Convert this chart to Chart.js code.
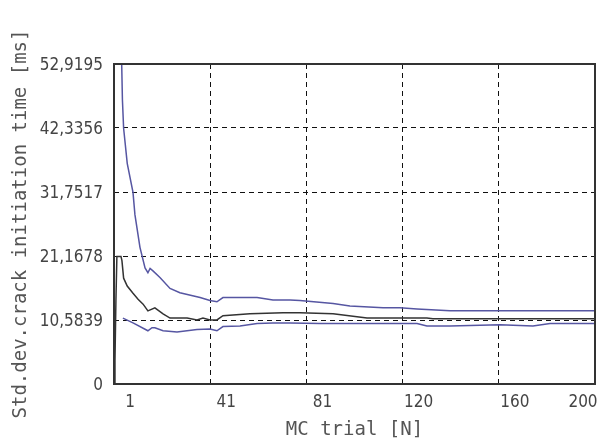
<!DOCTYPE html>
<html>
<head>
<meta charset="utf-8">
<script src="https://cdn.jsdelivr.net/npm/chart.js@4/dist/chart.umd.min.js"></script>
<style>
  html, body { margin: 0; padding: 0; background: #fff; }
  #wrap { width: 598px; height: 446px; }
</style>
</head>
<body>
<div id="wrap"><canvas id="charts"></canvas></div>
<script>
// x ticks (gridlines) and the labels printed under them
var xTicks = [0, 40, 80, 120, 160, 200];
var xTickLabels = ['1', '41', '81', '120', '160', '200'];
var yTicks = [0, 10.5839, 21.1678, 31.7517, 42.3356, 52.9195];
var yTickLabels = ['0', '10,5839', '21,1678', '31,7517', '42,3356', '52,9195'];

// upper bound
var upperX = [3.2, 3.5, 4.0, 5.5, 7.9, 8.7, 10.8, 12.9, 14.1, 15.0, 16.2, 19.1, 23.3, 27.4, 35.8, 39.9, 42.8, 45.3, 52.4, 59.5, 66.1, 73.2, 77.3, 91.1, 98.1, 111.9, 118.9, 126, 139.7, 200];
var upperY = [52.9, 47.0, 42.3, 36.5, 31.7, 28.0, 22.6, 19.2, 18.4, 19.1, 18.7, 17.6, 15.8, 15.1, 14.3, 13.8, 13.6, 14.3, 14.3, 14.3, 13.9, 13.9, 13.8, 13.3, 12.9, 12.6, 12.6, 12.4, 12.1, 12.1];
// mean
var meanX = [0.2, 0.4, 0.8, 1.2, 2.9, 3.3, 4.0, 5.5, 7.9, 10.0, 12.1, 14.1, 17.0, 20.4, 23.3, 30.4, 34.5, 37, 39.9, 42.8, 45.3, 56.5, 70.3, 77.3, 91.1, 105.2, 118.9, 130.1, 132.6, 200];
var meanY = [0, 3.8, 13.8, 21.1, 21.1, 20.4, 17.5, 16.2, 15.0, 14.0, 13.2, 12.1, 12.6, 11.6, 10.9, 10.9, 10.6, 10.9, 10.6, 10.6, 11.3, 11.6, 11.8, 11.8, 11.6, 10.9, 10.9, 10.9, 10.8, 10.8];
// lower bound
var lowerX = [3.7, 7.9, 14.1, 15.8, 17.0, 20.4, 26.2, 34.5, 39.9, 42.8, 45.3, 52.4, 59.5, 66.1, 73.2, 85.7, 118.9, 126, 130.1, 139.7, 160.5, 174.2, 181.3, 200];
var lowerY = [10.9, 10.1, 8.8, 9.3, 9.3, 8.8, 8.6, 9.0, 9.1, 8.8, 9.5, 9.6, 10.0, 10.1, 10.1, 10.0, 10.0, 10.0, 9.6, 9.6, 9.8, 9.6, 10.0, 10.0];

function pts(xs, ys) {
    return xs.map(function (x, i) { return {x: x, y: ys[i]}; });
}

var tickFont = {family: "'Liberation Sans Narrow', 'DejaVu Sans Condensed', sans-serif", size: 17};
var titleFont = {family: "'DejaVu Sans Mono', monospace", size: 19};

// solid frame round the plot + x labels nudged right of their gridlines
var framePlugin = {
    id: 'frame',
    afterDraw: function (chart) {
        var ctx = chart.ctx, a = chart.chartArea, xs = chart.scales.x;
        ctx.save();
        ctx.strokeStyle = '#333';
        ctx.lineWidth = 2;
        ctx.strokeRect(a.left, a.top, a.right - a.left, a.bottom - a.top);
        ctx.font = tickFont.size + 'px ' + tickFont.family;
        ctx.fillStyle = '#444';
        ctx.textAlign = 'center';
        ctx.textBaseline = 'middle';
        xTicks.forEach(function (v, i) {
            var px = Math.min(xs.getPixelForValue(v) + 16, a.right - 12);
            ctx.fillText(xTickLabels[i], px, a.bottom + 19);
        });
        ctx.restore();
    }
};

var ctx = document.getElementById('charts');
new Chart(ctx, {
    type: 'line',
    data: {
        datasets: [
            {label: 'upper', data: pts(upperX, upperY), borderColor: '#5656a2', borderWidth: 1.5},
            {label: 'mean', data: pts(meanX, meanY), borderColor: '#333333', borderWidth: 1.5},
            {label: 'lower', data: pts(lowerX, lowerY), borderColor: '#5656a2', borderWidth: 1.5}
        ]
    },
    options: {
        responsive: true,
        maintainAspectRatio: false,
        animation: false,
        elements: {point: {radius: 0}, line: {tension: 0, fill: false}},
        layout: {padding: {top: 64, right: 3, left: 0, bottom: 0}},
        plugins: {legend: {display: false}, tooltip: {enabled: false}},
        scales: {
            x: {
                type: 'linear',
                min: 0,
                max: 200,
                afterBuildTicks: function (s) { s.ticks = xTicks.map(function (v) { return {value: v}; }); },
                afterFit: function (s) { s.height = 62; },
                ticks: {display: false},
                grid: {color: '#111', lineWidth: 1, drawTicks: false},
                border: {display: false, dash: [5, 4]},
                title: {display: true, text: 'MC trial [N]', font: titleFont, color: '#555', padding: {top: 0, bottom: 5}}
            },
            y: {
                min: 0,
                max: 52.9195,
                afterBuildTicks: function (s) { s.ticks = yTicks.map(function (v) { return {value: v}; }); },
                afterFit: function (s) { s.width = 114; },
                ticks: {
                    font: tickFont,
                    color: '#444',
                    padding: 11,
                    labelOffset: 2,
                    callback: function (v, i) { return yTickLabels[i]; }
                },
                grid: {color: '#111', lineWidth: 1, drawTicks: false},
                border: {display: false, dash: [5, 4]},
                title: {display: true, text: 'Std.dev.crack initiation time [ms]', font: titleFont, color: '#555', padding: {top: 10, bottom: 0}}
            }
        }
    },
    plugins: [framePlugin]
});
</script>
</body>
</html>
